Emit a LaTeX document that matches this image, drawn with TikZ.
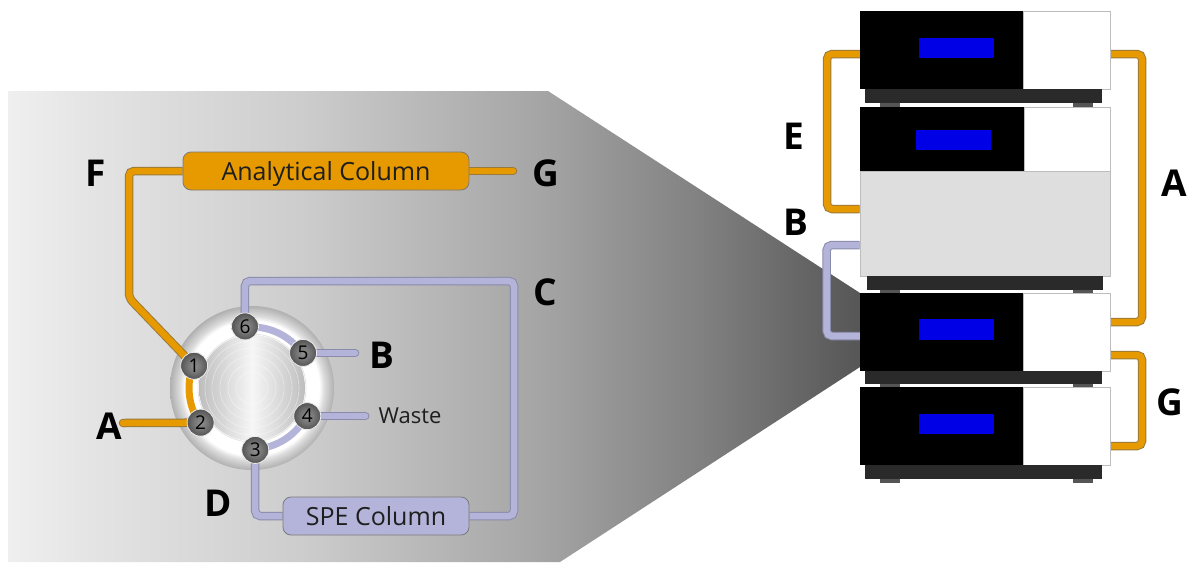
\documentclass[tikz,border=0pt]{standalone}
\usepackage{fontspec}
\setmainfont{Open Sans}

% palette
\definecolor{pnlA}{HTML}{EFEFEF}
\definecolor{pnlB}{HTML}{E3E3E3}
\definecolor{pnlC}{HTML}{CDCDCD}
\definecolor{pnlD}{HTML}{A5A5A5}
\definecolor{pnlE}{HTML}{818181}
\definecolor{pnlF}{HTML}{565656}
\definecolor{tubeOr}{HTML}{E69A00}
\definecolor{edgeO}{HTML}{9A7A3A}
\definecolor{tubeLav}{HTML}{B4B4DA}
\definecolor{edgeL}{HTML}{8A8AAA}
\definecolor{colEdge}{HTML}{7A7A7A}
\definecolor{scrBlue}{HTML}{0000E6}
\definecolor{baseGray}{HTML}{2A2A2A}
\definecolor{footGray}{HTML}{555555}
\definecolor{boxGray}{HTML}{DEDEDE}
\definecolor{paneEdge}{HTML}{BDBDBD}
\definecolor{rimA}{HTML}{DCDCDC}
\definecolor{rimB}{HTML}{B0B0B0}
\definecolor{diskEdge}{HTML}{BEBEBE}
\definecolor{diskMid}{HTML}{F6F6F6}
\definecolor{portHi}{HTML}{8E8E8E}
\definecolor{portLo}{HTML}{545454}
\definecolor{inkDark}{HTML}{1E1E1E}

% zoom-in panel: light on the left, dark towards the instrument stack
\pgfdeclarehorizontalshading{panelshade}{100bp}{color(0bp)=(pnlA); color(25bp)=(pnlA);
  color(30.4bp)=(pnlB); color(42.1bp)=(pnlC); color(56.2bp)=(pnlD);
  color(65.6bp)=(pnlE); color(75bp)=(pnlF); color(100bp)=(pnlF)}
% valve body: white seat ring and grey metal rim
\pgfdeclareradialshading{valveshade}{\pgfpoint{0bp}{0bp}}{color(0bp)=(white);
  color(20.5bp)=(white); color(22bp)=(rimA); color(25bp)=(rimB); color(50bp)=(rimB)}
% port fittings
\pgfdeclareradialshading{portshade}{\pgfpoint{0bp}{0bp}}{color(0bp)=(portHi);
  color(12bp)=(portHi!60!portLo); color(25bp)=(portLo); color(50bp)=(portLo)}

\pgfdeclarelayer{bg}
\pgfdeclarelayer{pipes}
\pgfsetlayers{bg,pipes,main}

\tikzset{
  tubeO/.style={draw=edgeO, line width=8.5pt, rounded corners=5pt,
    postaction={draw=tubeOr, line width=6.5pt}},
  tubeL/.style={draw=edgeL, line width=8.5pt, rounded corners=5pt,
    postaction={draw=tubeLav, line width=6.5pt}},
  groove/.style={line width=7pt},
  port/.style={circle, minimum size=27pt, inner sep=0pt, shading=portshade,
    draw=white!85!gray, line width=0.8pt, text=black,
    font=\fontsize{19}{19}\selectfont},
  column/.style={rectangle, rounded corners=8pt, draw=colEdge, line width=0.8pt,
    minimum height=38pt, inner sep=0pt, text=inkDark, text height=18pt, text depth=0pt,
    font=\fontsize{25}{25}\selectfont},
  lbl/.style={inner sep=0pt, text=black, font=\fontsize{37}{37}\selectfont\bfseries},
  small/.style={inner sep=0pt, text=inkDark, font=\fontsize{22}{22}\selectfont},
  housing/.style={rectangle, fill=black, inner sep=0pt, outer sep=0pt},
  pane/.style={rectangle, fill=white, draw=paneEdge, line width=0.6pt, inner sep=0pt, outer sep=0pt},
  screen/.style={rectangle, fill=scrBlue, inner sep=0pt, minimum width=75pt},
  plinth/.style={fill=baseGray},
  foot/.style={fill=footGray}
}

\begin{document}
\begin{tikzpicture}[x=1pt,y=-1pt]
\useasboundingbox (0,0) rectangle (1190,563);

% ---------- zoom-in panel and valve body ----------
\begin{pgfonlayer}{bg}
  \path[shading=panelshade] (8,91) -- (548,91) -- (860,293) -- (860,367)
    -- (560,562) -- (8,562) -- cycle;
  \coordinate (vc) at (252,388);
  \path[shading=valveshade] (vc) circle[radius=82];
  \shade[left color=diskEdge, right color=diskEdge, middle color=diskMid] (vc) circle[radius=53];
  \draw[white!75!gray, line width=0.6pt] (vc) circle[radius=54];
  \foreach \r in {16,24,32,40,47}
    \draw[white, line width=0.6pt, opacity=0.45] (vc) circle[radius=\r];
\end{pgfonlayer}

% ---------- six-port valve ----------
\node[port] (p1) at ([shift={(201:62)}]vc) {1};
\node[port] (p2) at ([shift={(146:62)}]vc) {2};
\node[port] (p3) at ([shift={(87:62)}]vc) {3};
\node[port] (p4) at ([shift={(27:62)}]vc) {4};
\node[port] (p5) at ([shift={(-34.5:62)}]vc) {5};
\node[port] (p6) at ([shift={(263.5:62)}]vc) {6};

% ---------- columns ----------
\node[column, fill=tubeOr, minimum width=286pt] (ac) at (326,171) {Analytical Column};
\node[column, fill=tubeLav, minimum width=186pt] (spe) at (376,516) {SPE Column};

% ---------- left-side plumbing ----------
\coordinate (aEnd) at (123,423);
\coordinate (gEnd) at (513,171);
\begin{pgfonlayer}{pipes}
  % rotor grooves
  \draw[groove, tubeOr] ([shift={(201:63)}]vc) arc[start angle=201, end angle=146, radius=63];
  \draw[groove, tubeLav] ([shift={(263.5:61)}]vc) arc[start angle=263.5, end angle=325.5, radius=61];
  \draw[groove, tubeLav] ([shift={(27:61)}]vc) arc[start angle=27, end angle=87, radius=61];
  % capillaries
  \draw[tubeO] (p1.center) -- (129,298) |- (ac.west);
  \draw[tubeO, line cap=round] (ac.east) -- (gEnd);
  \draw[tubeO, line cap=round] (aEnd) -- (p2.center);
  \draw[tubeL] (p6.center) |- (514,281) |- (spe.east);
  \draw[tubeL] (p3.center) |- (spe.west);
  \draw[tubeL, line cap=round] (p5.center) -- ++(52,0);
  \draw[tubeL, line cap=round] (p4.center) -- ++(58,0);
\end{pgfonlayer}

% ---------- left-side labels ----------
\node[lbl] at (96,173) {F};
\node[lbl] at (546,173) {G};
\node[lbl] at (545,292) {C};
\node[lbl] at (382,355) {B};
\node[small] at (410,416) {Waste};
\node[lbl] at (109,426) {A};
\node[lbl] at (218,503) {D};

% ---------- instrument stack ----------
% module 1
\node[housing, minimum width=163pt, minimum height=78pt] (m1) at (941.5,50) {};
\node[pane, minimum width=87pt, minimum height=78pt] (m1w) at (1066.5,50) {};
\node[screen, minimum height=20pt] at (956.5,48) {};
\fill[plinth] (865,89) rectangle (1102,103);
\fill[foot] (880,103) rectangle (900,107);
\fill[foot] (1073,103) rectangle (1093,107);
% module 2 with its lower compartment
\node[housing, minimum width=164pt, minimum height=64pt] (m2) at (942,139) {};
\node[pane, minimum width=86pt, minimum height=64pt] (m2w) at (1067,139) {};
\node[screen, minimum height=20pt] at (953.5,140) {};
\node[rectangle, fill=boxGray, draw=paneEdge, line width=0.6pt, inner sep=0pt,
  minimum width=250pt, minimum height=105pt] (g2) at (985,223.5) {};
\fill[plinth] (867,276) rectangle (1103,290);
\fill[foot] (880,290) rectangle (900,293);
\fill[foot] (1073,290) rectangle (1093,293);
% module 3
\node[housing, minimum width=163pt, minimum height=78pt] (m3) at (941.5,332) {};
\node[pane, minimum width=87pt, minimum height=78pt] (m3w) at (1066.5,332) {};
\node[screen, minimum height=21pt] at (956.5,329.5) {};
\fill[plinth] (865,371) rectangle (1102,384);
\fill[foot] (880,384) rectangle (900,387);
\fill[foot] (1073,384) rectangle (1093,387);
% module 4
\node[housing, minimum width=163pt, minimum height=78pt] (m4) at (941.5,426) {};
\node[pane, minimum width=87pt, minimum height=78pt] (m4w) at (1066.5,426) {};
\node[screen, minimum height=20pt] at (956.5,424) {};
\fill[plinth] (865,465) rectangle (1102,479);
\fill[foot] (880,479) rectangle (900,483);
\fill[foot] (1073,479) rectangle (1093,483);

% ---------- stack plumbing ----------
\begin{pgfonlayer}{pipes}
  \draw[tubeO] ([yshift=-4pt]m1.west) -- ++(-33,0) |- ([yshift=14.5pt]g2.west);
  \draw[tubeL] ([yshift=-21.5pt]g2.west) -- ++(-33,0) |- ([yshift=-4pt]m3.west);
  \draw[tubeO] ([yshift=-4pt]m1w.east) -- ++(32,0) |- ([yshift=10pt]m3w.east);
  \draw[tubeO] ([yshift=-23pt]m3w.east) -- ++(32,0) |- ([yshift=-20pt]m4w.east);
\end{pgfonlayer}

% ---------- stack labels ----------
\node[lbl] at (794,136) {E};
\node[lbl] at (796,222) {B};
\node[lbl] at (1174,183) {A};
\node[lbl] at (1170,402) {G};
\end{tikzpicture}
\end{document}
